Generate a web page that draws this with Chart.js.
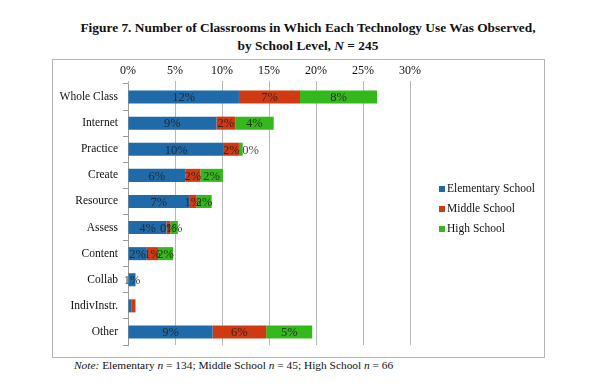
<!DOCTYPE html>
<html>
<head>
<meta charset="utf-8">
<script src="https://cdn.jsdelivr.net/npm/chart.js@4/dist/chart.umd.min.js"></script>
<style>
  body { margin: 0; width: 613px; height: 384px; background: #fff; font-family: "Liberation Serif", serif; position: relative; overflow: hidden; }
  #title { position: absolute; top: 19px; left: 0; width: 616px; text-align: center; font-weight: bold; font-size: 13.4px; line-height: 18px; color: #111; }
  #frame { position: absolute; left: 52px; top: 59px; width: 491px; height: 297px; border: 1px solid #b5b5b5; }
  #note { position: absolute; left: 74px; top: 359px; font-size: 11.4px; color: #111; }
</style>
</head>
<body>
<div id="title">Figure 7. Number of Classrooms in Which Each Technology Use Was Observed,<br>by School Level, <i>N</i> = 245</div>
<div id="frame"><canvas id="techChart" width="491" height="297"></canvas></div>
<div id="note"><i>Note:</i> Elementary <i>n</i> = 134; Middle School <i>n</i> = 45; High School <i>n</i> = 66</div>
<script>
const categories = ['Whole Class', 'Internet', 'Practice', 'Create', 'Resource', 'Assess', 'Content', 'Collab', 'IndivInstr.', 'Other'];
const elementary = [11.8, 9.4, 10.2, 6.1, 6.5, 4.1, 2.0, 0.8, 0.4, 9.0];
const middle = [6.5, 2.0, 1.6, 1.6, 0.8, 0.4, 1.2, 0, 0.4, 5.7];
const high = [8.2, 4.1, 0.4, 2.4, 1.6, 0.8, 1.6, 0, 0, 4.9];
const xTicks = [0, 5, 10, 15, 20, 25, 30];
const seriesNames = ['Elementary School', 'Middle School', 'High School'];
const seriesColors = ['#1f6aa8', '#cf3a12', '#35b81c'];
const noLabel = ['IndivInstr.']; // no value labels shown on this row

// value labels in the middle of each segment
const barLabels = {
    id: 'barLabels',
    afterDatasetsDraw(chart) {
        const ctx = chart.ctx;
        ctx.save();
        ctx.font = '12.5px "Liberation Serif"';
        ctx.fillStyle = 'rgba(30, 30, 30, 0.85)';
        ctx.textAlign = 'center';
        ctx.textBaseline = 'middle';
        chart.data.datasets.forEach((ds, di) => {
            chart.getDatasetMeta(di).data.forEach((bar, i) => {
                if (!ds.data[i] || noLabel.includes(categories[i])) return;
                let x = (bar.x + bar.base) / 2;
                // a tiny last segment gets its label pushed just past the bar end
                if (di === 2 && bar.x - bar.base < 5) x = bar.x + 8;
                ctx.fillText(Math.round(ds.data[i]) + '%', x, bar.y + 1);
            });
        });
        ctx.restore();
    }
};

// legend drawn at the right, to the side of the plot
const sideLegend = {
    id: 'sideLegend',
    afterDraw(chart) {
        const ctx = chart.ctx;
        ctx.save();
        ctx.font = '11.5px "Liberation Serif"';
        ctx.textBaseline = 'middle';
        chart.data.datasets.forEach((ds, i) => {
            const y = 129 + i * 20;
            ctx.fillStyle = ds.backgroundColor;
            ctx.fillRect(386, y - 3, 6, 6);
            ctx.fillStyle = '#111';
            ctx.fillText(ds.label, 394, y);
        });
        ctx.restore();
    }
};

const ctx = document.getElementById('techChart').getContext('2d');
const techChart = new Chart(ctx, {
    type: 'bar',
    data: {
        labels: categories,
        datasets: [elementary, middle, high].map((d, i) => ({
            label: seriesNames[i],
            data: d,
            backgroundColor: seriesColors[i],
            barPercentage: 0.5,
            categoryPercentage: 1
        }))
    },
    options: {
        indexAxis: 'y',
        responsive: false,
        animation: false,
        layout: { padding: { left: 0, top: 0, right: 134, bottom: 12 } },
        plugins: {
            legend: { display: false },
            tooltip: { enabled: false }
        },
        scales: {
            x: {
                position: 'top',
                stacked: true,
                min: 0,
                max: 30,
                afterBuildTicks: (scale) => { scale.ticks = xTicks.map(v => ({ value: v })); },
                afterFit: (scale) => { scale.height = 24; },
                ticks: {
                    callback: (v) => v + '%',
                    font: { family: 'Liberation Serif', size: 12 },
                    color: '#111',
                    padding: 3,
                    maxRotation: 0
                },
                grid: { color: '#b8b8b8', tickLength: 3 },
                border: { display: false }
            },
            y: {
                stacked: true,
                afterFit: (scale) => { scale.width = 75; },
                ticks: {
                    font: { family: 'Liberation Serif', size: 11.5 },
                    color: '#111',
                    padding: 5
                },
                grid: { offset: true, drawOnChartArea: false, color: '#9a9a9a', tickLength: 5 },
                border: { color: '#9a9a9a' }
            }
        }
    },
    plugins: [barLabels, sideLegend]
});
</script>
</body>
</html>
